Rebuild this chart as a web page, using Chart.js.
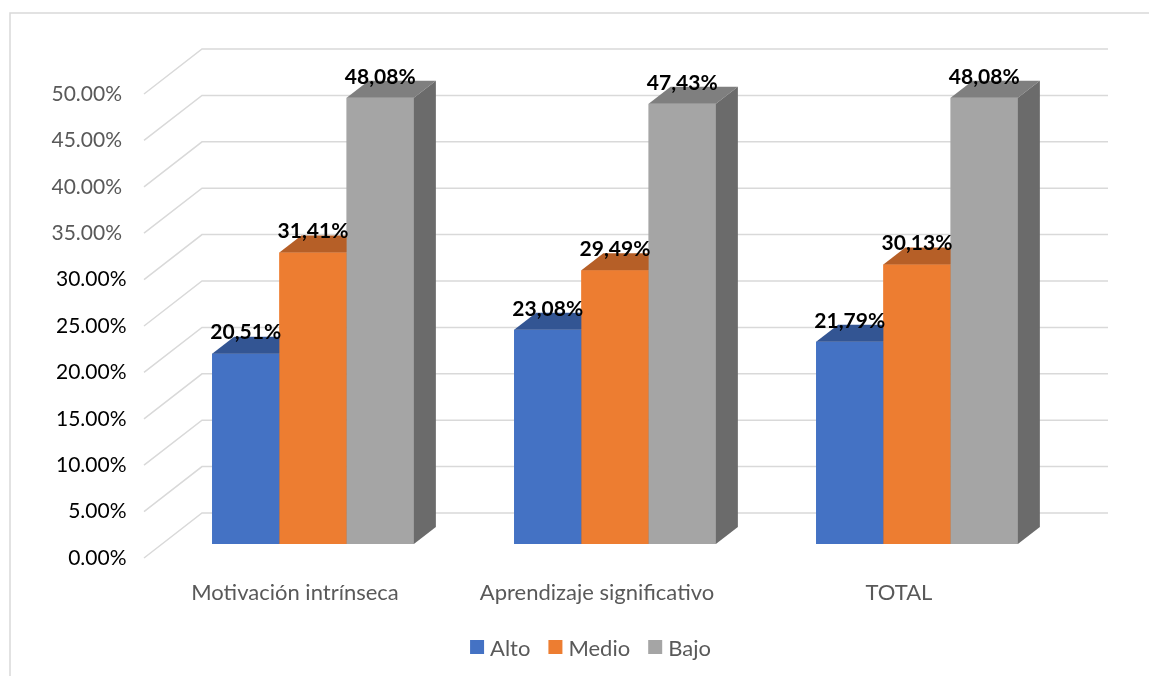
<!DOCTYPE html>
<html>
<head>
<meta charset="utf-8">
<script src="https://cdn.jsdelivr.net/npm/chart.js@4/dist/chart.umd.min.js"></script>
<style>
  html, body { margin: 0; padding: 0; background: #fff; }
  canvas { display: block; }
</style>
</head>
<body>
<canvas id="myChart" width="1149" height="676"></canvas>
<script>
const categories = ['Motivación intrínseca', 'Aprendizaje significativo', 'TOTAL'];
const seriesNames = ['Alto', 'Medio', 'Bajo'];
const altoValues = [20.51, 23.08, 21.79];
const medioValues = [31.41, 29.49, 30.13];
const bajoValues = [48.08, 47.43, 48.08];
const yTicks = [0, 5, 10, 15, 20, 25, 30, 35, 40, 45, 50];

const FONT = 'Lato, "Open Sans", sans-serif';
const GRID = '#d9d9d9';

// faces of each bar: front colour, top colour, side colour
const faceColors = [
    ['#4472c4', '#335593', '#2f4f88'],
    ['#ed7d31', '#b65f27', '#a85722'],
    ['#a5a5a5', '#7f7f7f', '#6b6b6b']
];

// oblique offsets from the bar plane
const front = { dx: -18, dy: 14 };
const back = { dx: 40, dy: -31 };
const depth = { dx: 22, dy: -17 };

function pct(v) {
    return v.toFixed(2).replace('.', ',') + '%';
}

const box3d = {
    id: 'box3d',
    beforeDatasetsDraw(chart) {
        const ctx = chart.ctx;
        const area = chart.chartArea;
        const y = chart.scales.y;
        const x = chart.scales.x;

        ctx.save();
        // outer frame
        ctx.strokeStyle = GRID;
        ctx.lineWidth = 1.5;
        ctx.beginPath();
        ctx.moveTo(10, 676);
        ctx.lineTo(10, 13);
        ctx.lineTo(1149, 13);
        ctx.stroke();

        // back wall and side wall grid
        for (const v of yTicks) {
            const py = y.getPixelForValue(v);
            ctx.beginPath();
            ctx.moveTo(area.left + front.dx, py + front.dy);
            ctx.lineTo(area.left + back.dx, py + back.dy);
            ctx.lineTo(area.right + back.dx, py + back.dy);
            ctx.stroke();
        }

        // value axis labels
        ctx.font = '21px ' + FONT;
        ctx.textAlign = 'right';
        ctx.textBaseline = 'middle';
        for (const v of yTicks) {
            const py = y.getPixelForValue(v) + front.dy;
            if (v >= 35) {
                ctx.fillStyle = '#595959';
                ctx.fillText(v.toFixed(2) + '%', 122, py);
            } else {
                ctx.fillStyle = '#000000';
                ctx.fillText(v.toFixed(2) + '%', 126.5, py);
            }
        }

        // category labels
        ctx.font = '22px ' + FONT;
        ctx.fillStyle = '#595959';
        ctx.textAlign = 'center';
        categories.forEach((c, i) => {
            ctx.fillText(c, x.getPixelForValue(i) + front.dx, area.bottom + 49);
        });

        // legend
        ctx.textAlign = 'left';
        const items = chart.data.datasets.map((ds, i) => ({
            label: ds.label, color: faceColors[i][0], w: ctx.measureText(ds.label).width
        }));
        let total = 0;
        items.forEach((it, i) => { total += 14 + 6 + it.w + (i < items.length - 1 ? 18 : 0); });
        let lx = 590.5 - total / 2;
        items.forEach(it => {
            ctx.fillStyle = it.color;
            ctx.fillRect(lx, 640, 14, 14);
            ctx.fillStyle = '#595959';
            ctx.fillText(it.label, lx + 20, 649);
            lx += 14 + 6 + it.w + 18;
        });
        ctx.restore();
    },
    afterDatasetsDraw(chart) {
        const ctx = chart.ctx;
        ctx.save();
        chart.data.datasets.forEach((ds, di) => {
            const meta = chart.getDatasetMeta(di);
            const [cf, ct, cs] = faceColors[di];
            meta.data.forEach(bar => {
                const { x, y, base, width } = bar.getProps(['x', 'y', 'base', 'width'], true);
                const l = x - width / 2;
                const r = x + width / 2;
                ctx.fillStyle = cf;
                ctx.fillRect(l, y, width, base - y);
                ctx.fillStyle = ct;
                ctx.beginPath();
                ctx.moveTo(l, y);
                ctx.lineTo(r, y);
                ctx.lineTo(r + depth.dx, y + depth.dy);
                ctx.lineTo(l + depth.dx, y + depth.dy);
                ctx.closePath();
                ctx.fill();
                ctx.fillStyle = cs;
                ctx.beginPath();
                ctx.moveTo(r, y);
                ctx.lineTo(r + depth.dx, y + depth.dy);
                ctx.lineTo(r + depth.dx, base + depth.dy);
                ctx.lineTo(r, base);
                ctx.closePath();
                ctx.fill();
            });
        });

        // value labels over the bars
        ctx.font = 'bold 21px ' + FONT;
        ctx.fillStyle = '#000000';
        ctx.textAlign = 'center';
        ctx.textBaseline = 'middle';
        chart.data.datasets.forEach((ds, di) => {
            const meta = chart.getDatasetMeta(di);
            meta.data.forEach((bar, i) => {
                const { x, y } = bar.getProps(['x', 'y'], true);
                ctx.fillText(pct(ds.data[i]), x, y - 21);
            });
        });
        ctx.restore();
    }
};

const ctx = document.getElementById('myChart');

new Chart(ctx, {
    type: 'bar',
    data: {
        labels: categories,
        datasets: [
            { label: seriesNames[0], data: altoValues, backgroundColor: faceColors[0][0] },
            { label: seriesNames[1], data: medioValues, backgroundColor: faceColors[1][0] },
            { label: seriesNames[2], data: bajoValues, backgroundColor: faceColors[2][0] }
        ]
    },
    options: {
        responsive: false,
        animation: false,
        layout: {
            padding: { left: 162, right: 81, top: 80, bottom: 132 }
        },
        datasets: {
            bar: {
                categoryPercentage: 0.668,
                barPercentage: 1
            }
        },
        plugins: {
            legend: { display: false },
            tooltip: { enabled: false }
        },
        scales: {
            x: { display: false },
            y: { display: false, min: 0, max: 50 }
        }
    },
    plugins: [box3d]
});
</script>
</body>
</html>
